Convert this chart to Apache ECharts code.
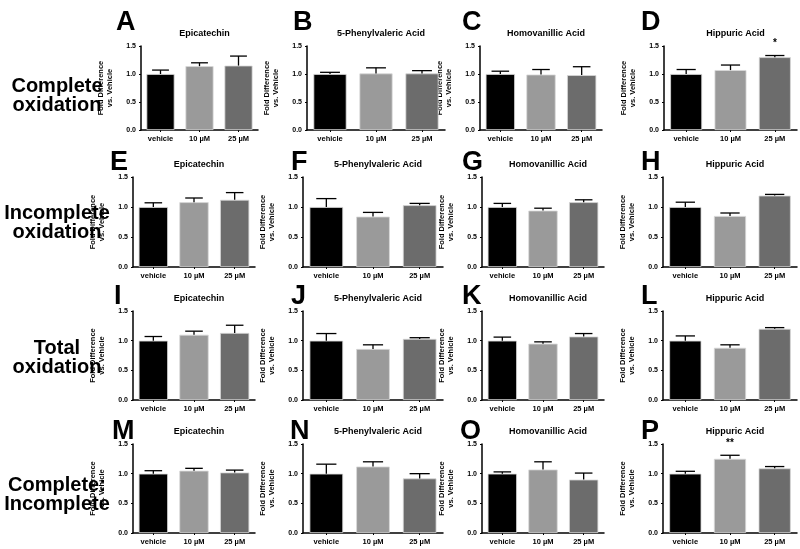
<!DOCTYPE html>
<html><head><meta charset="utf-8">
<script src="https://cdn.jsdelivr.net/npm/echarts@6/dist/echarts.min.js"></script>
<style>html,body{margin:0;padding:0;background:#fff}#c{width:800px;height:549px}</style>
</head><body><div id="c"></div><script>
// ---------- data ----------
const categories = ['vehicle', '10 µM', '25 µM'];
const compounds = ['Epicatechin', '5-Phenylvaleric Acid', 'Homovanillic Acid', 'Hippuric Acid'];
const panelLetters = [['A','B','C','D'],['E','F','G','H'],['I','J','K','L'],['M','N','O','P']];
const rowLabels = ['Complete\noxidation', 'Incomplete\noxidation', 'Total\noxidation', 'Complete:\nIncomplete'];
const yTicks = [0, 0.5, 1.0, 1.5];
const yAxisTitle = 'Fold Difference\nvs. Vehicle';

// each row: one array per compound, values for [vehicle, 10 µM, 25 µM]
const completeMean   = [[1.00,1.14,1.15],[1.00,1.01,1.01],[1.00,0.99,0.98],[1.00,1.07,1.30]];
const completeErr    = [[0.07,0.06,0.17],[0.03,0.10,0.05],[0.05,0.09,0.15],[0.08,0.09,0.03]];
const incompleteMean = [[1.00,1.08,1.12],[1.00,0.84,1.03],[1.00,0.94,1.08],[1.00,0.85,1.19]];
const incompleteErr  = [[0.07,0.07,0.12],[0.14,0.07,0.03],[0.06,0.04,0.04],[0.08,0.05,0.02]];
const totalMean      = [[1.00,1.10,1.13],[1.00,0.86,1.03],[1.00,0.95,1.07],[1.00,0.88,1.20]];
const totalErr       = [[0.07,0.06,0.13],[0.12,0.07,0.02],[0.06,0.03,0.05],[0.08,0.05,0.02]];
const ratioMean      = [[1.00,1.05,1.02],[1.00,1.12,0.92],[1.00,1.07,0.90],[1.00,1.25,1.09]];
const ratioErr       = [[0.05,0.04,0.04],[0.16,0.08,0.08],[0.03,0.13,0.11],[0.04,0.06,0.03]];
const completeSig    = [['','',''],['','',''],['','',''],['','','*']];
const incompleteSig  = [['','',''],['','',''],['','',''],['','','']];
const totalSig       = [['','',''],['','',''],['','',''],['','','']];
const ratioSig       = [['','',''],['','',''],['','',''],['','**','']];

const rowMeans = [completeMean, incompleteMean, totalMean, ratioMean];
const rowErrs = [completeErr, incompleteErr, totalErr, ratioErr];
const rowSigs = [completeSig, incompleteSig, totalSig, ratioSig];

// ---------- layout ----------
const barColors = ['#000000', '#9a9a9a', '#6c6c6c'];
const rowTop = [46, 177, 311, 444];
const rowH = [84, 90, 89, 89];
const colLeft = [[141,307,480,664],[133,303,482,663],[133,303,482,663],[133,303,482,663]];
const colW = [[117,138,122,133],[122,140,122,134],[122,140,122,134],[122,140,122,134]];
const letterPos = [[[111,4],[288,4],[457,4],[636,4]],
                   [[105,144],[286,144],[457,144],[636,144]],
                   [[109,278],[286,278],[457,278],[636,278]],
                   [[107,413],[285,413],[455,413],[636,413]]];
const rowLabelY = [95, 222, 357, 494];
const FONT = 'Liberation Sans, Arial, Helvetica, sans-serif';

const grids = [], xAxes = [], yAxes = [], series = [], titles = [];
let gi = 0;
for (let r = 0; r < 4; r++) {
  titles.push({text: rowLabels[r], left: 52, top: rowLabelY[r] - 23, textAlign: 'center',
    textStyle: {fontFamily: FONT, fontWeight: 'bold', fontSize: 20, lineHeight: 19, color: '#000'}});
  for (let c = 0; c < 4; c++) {
    const L = colLeft[r][c], T = rowTop[r], W = colW[r][c], H = rowH[r];
    grids.push({left: L, top: T, width: W, height: H});
    xAxes.push({type: 'category', gridIndex: gi, data: categories,
      axisLine: {lineStyle: {color: '#000', width: 1.5}},
      axisTick: {show: true, alignWithLabel: true, length: 2, lineStyle: {color: '#000', width: 1}},
      axisLabel: {fontFamily: FONT, fontWeight: 'bold', fontSize: 7.5, color: '#000', margin: 5}});
    yAxes.push({type: 'value', gridIndex: gi, min: 0, max: 1.5, interval: 0.5,
      name: yAxisTitle, nameLocation: 'middle', nameRotate: 90, nameGap: 27,
      nameTextStyle: {fontFamily: FONT, fontWeight: 'bold', fontSize: 7.5, lineHeight: 9, color: '#000'},
      axisLine: {show: true, lineStyle: {color: '#000', width: 1.5}},
      axisTick: {show: true, length: 2, lineStyle: {color: '#000'}},
      splitLine: {show: false},
      axisLabel: {fontFamily: FONT, fontWeight: 'bold', fontSize: 7, color: '#000', margin: 5,
        formatter: v => yTicks.includes(v) ? v.toFixed(1) : ''}});
    const means = rowMeans[r][c], errs = rowErrs[r][c], sigs = rowSigs[r][c];
    series.push({type: 'bar', xAxisIndex: gi, yAxisIndex: gi, barWidth: '72%',
      data: means.map((v, i) => ({value: v, itemStyle: {color: barColors[i], borderColor: '#d8d8d8', borderWidth: 0.8}})),
      silent: true, animation: false, z: 2});
    series.push({type: 'custom', xAxisIndex: gi, yAxisIndex: gi, z: 3, animation: false, silent: true,
      data: means.map((v, i) => [i, v, errs[i]]),
      renderItem: (params, api) => {
        const i = api.value(0), m = api.value(1), e = api.value(2);
        const p0 = api.coord([i, m]), p1 = api.coord([i, m + e]);
        const bw = api.size([1, 0])[0] * 0.72;
        const cw = bw * 0.3;
        const sig = sigs[i];
        const children = [
          {type: 'line', shape: {x1: p0[0], y1: p0[1], x2: p1[0], y2: p1[1]}, style: {stroke: '#000', lineWidth: 1.3}},
          {type: 'line', shape: {x1: p1[0] - cw, y1: p1[1], x2: p1[0] + cw, y2: p1[1]}, style: {stroke: '#000', lineWidth: 1.3}}
        ];
        if (sig) children.push({type: 'text', style: {text: sig, x: p1[0], y: p1[1] - 7, textAlign: 'center', textVerticalAlign: 'bottom',
          font: 'bold 10px ' + FONT, fill: '#000'}});
        return {type: 'group', children};
      }});
    titles.push({text: panelLetters[r][c], left: letterPos[r][c][0], top: letterPos[r][c][1],
      textStyle: {fontFamily: FONT, fontWeight: 'bold', fontSize: 27, color: '#000'}});
    titles.push({text: compounds[c], left: L + W / 2, top: T - 22, textAlign: 'center',
      textStyle: {fontFamily: FONT, fontWeight: 'bold', fontSize: 9, color: '#000'}});
    gi++;
  }
}
const chart = echarts.init(document.getElementById('c'), null, {renderer: 'canvas'});
chart.setOption({animation: false, backgroundColor: '#fff', title: titles, grid: grids, xAxis: xAxes, yAxis: yAxes, series});
</script></body></html>
